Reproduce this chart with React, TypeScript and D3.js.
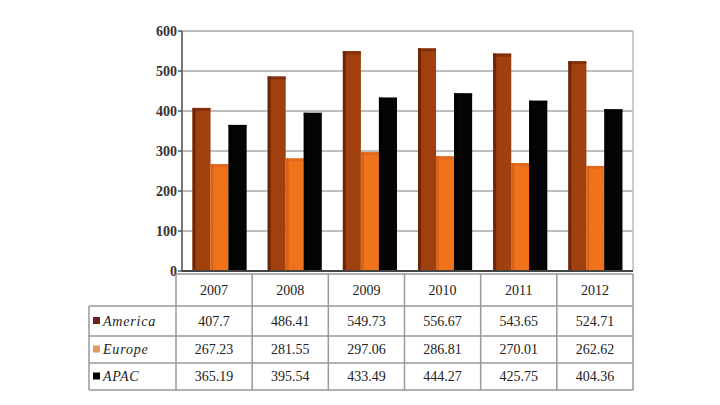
import React from "react";
import * as d3 from "d3";

const years = ["2007", "2008", "2009", "2010", "2011", "2012"];
const seriesNames = ["America", "Europe", "APAC"];
const america = [407.7, 486.41, 549.73, 556.67, 543.65, 524.71];
const europe = [267.23, 281.55, 297.06, 286.81, 270.01, 262.62];
const apac = [365.19, 395.54, 433.49, 444.27, 425.75, 404.36];
const yTicks = [0, 100, 200, 300, 400, 500, 600];
const labels = [
  ["407.7", "486.41", "549.73", "556.67", "543.65", "524.71"],
  ["267.23", "281.55", "297.06", "286.81", "270.01", "262.62"],
  ["365.19", "395.54", "433.49", "444.27", "425.75", "404.36"],
];

const colors = ["#a1400f", "#f0731c", "#050505"];
const sideColors = ["#6e2608", "#d8631a", "#000000"];
const keyColors = ["#6a2418", "#e39a62", "#000000"];

export default function App() {
  const W = 720, H = 405;
  const left = 182, right = 633, top = 31, bottom = 271;
  const x = d3.scaleBand().domain(years).range([left, right]).paddingInner(0.28).paddingOuter(0.14);
  const xCat = d3.scaleBand().domain(years).range([left - 6, right]);
  const y = d3.scaleLinear().domain([0, 600]).range([bottom, top]);
  const inner = d3.scaleBand().domain(seriesNames).range([0, x.bandwidth()]).padding(0);
  const data = [america, europe, apac];
  const font = "'Liberation Serif', 'DejaVu Serif', serif";

  const tableLeft = 89;
  const rowYs = [274, 306, 336, 363, 390];

  return (
    <div style={{ position: "absolute", left: 0, top: 0, width: W, height: H, background: "#fff" }}>
      <svg width={W} height={H} style={{ display: "block" }}>
        <rect x={0} y={0} width={W} height={H} fill="#fff" />
        {yTicks.map((t) => (
          <line key={t} x1={left} x2={right} y1={y(t)} y2={y(t)} stroke="#a8a8a8" strokeWidth={1.5} />
        ))}
        <line x1={right} x2={right} y1={top} y2={bottom} stroke="#bbbbbb" strokeWidth={1.5} />
        <line x1={left} x2={left} y1={top} y2={bottom} stroke="#777" strokeWidth={2} />
        {yTicks.map((t) => (
          <g key={"t" + t}>
            <line x1={left - 4} x2={left} y1={y(t)} y2={y(t)} stroke="#555" strokeWidth={1.5} />
            <text x={left - 5} y={y(t)} dy="0.35em" textAnchor="end" fontFamily={font} fontSize={14} fontWeight="bold" fill="#333">
              {t}
            </text>
          </g>
        ))}
        {years.map((yr, i) => (
          <g key={yr}>
            {seriesNames.map((s, k) => {
              const bx = (x(yr) as number) + (inner(s) as number);
              const bw = inner.bandwidth();
              const by = y(data[k][i]);
              return (
                <g key={s}>
                  <rect x={bx} y={by} width={bw} height={bottom - by} fill={colors[k]} />
                  <rect x={bx} y={by} width={3} height={bottom - by} fill={sideColors[k]} />
                  <rect x={bx} y={by} width={bw} height={3} fill={sideColors[k]} opacity={0.6} />
                </g>
              );
            })}
          </g>
        ))}
        <line x1={left} x2={right} y1={bottom} y2={bottom} stroke="#444" strokeWidth={2} />
        <g fontFamily={font} fontSize={14} fill="#222">
          <line x1={xCat(years[0]) as number} x2={right} y1={rowYs[0]} y2={rowYs[0]} stroke="#999" strokeWidth={1.5} />
          {rowYs.slice(1).map((ry, j) => (
            <line key={j} x1={tableLeft} x2={right} y1={ry} y2={ry} stroke="#999" strokeWidth={1.5} />
          ))}
          <line x1={tableLeft} x2={tableLeft} y1={rowYs[1]} y2={rowYs[4]} stroke="#999" strokeWidth={1.5} />
          {years.map((yr) => (
            <line key={"v" + yr} x1={xCat(yr) as number} x2={xCat(yr) as number} y1={rowYs[0]} y2={rowYs[4]} stroke="#999" strokeWidth={1.5} />
          ))}
          <line x1={right} x2={right} y1={rowYs[0]} y2={rowYs[4]} stroke="#999" strokeWidth={1.5} />
          {years.map((yr) => (
            <text key={"h" + yr} x={(xCat(yr) as number) + xCat.bandwidth() / 2} y={(rowYs[0] + rowYs[1]) / 2} dy="0.35em" textAnchor="middle">
              {yr}
            </text>
          ))}
          {seriesNames.map((s, k) => {
            const cy = (rowYs[k + 1] + rowYs[k + 2]) / 2;
            return (
              <g key={"r" + s}>
                <rect x={tableLeft + 4} y={cy - 4} width={7} height={7} fill={keyColors[k]} />
                <text x={tableLeft + 14} y={cy} dy="0.35em" fontStyle="italic" letterSpacing={0.8}>
                  {s}
                </text>
                {years.map((yr, i) => (
                  <text key={yr} x={(xCat(yr) as number) + xCat.bandwidth() / 2} y={cy} dy="0.35em" textAnchor="middle">
                    {labels[k][i]}
                  </text>
                ))}
              </g>
            );
          })}
        </g>
      </svg>
    </div>
  );
}
